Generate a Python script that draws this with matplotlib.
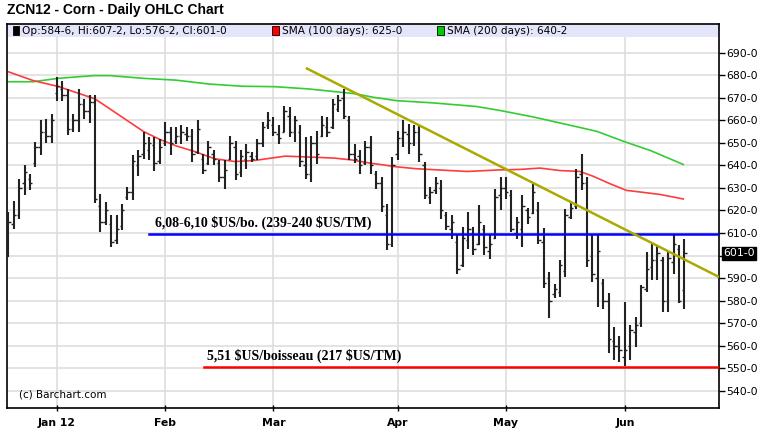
import matplotlib
matplotlib.use("Agg")
import matplotlib.pyplot as plt
from matplotlib.patches import Rectangle
import numpy as np

# ---------------- data ----------------
highs = [619.3, 624.0, 634.0, 640.0, 636.0, 650.5, 660.0, 660.6, 663.0, 679.3,
         677.6, 674.0, 663.0, 674.0, 669.5, 671.0, 671.0, 627.4, 623.7, 617.8,
         617.8, 623.0, 630.4, 644.4, 646.6, 655.0, 652.5, 652.5, 651.8, 659.4,
         657.0, 657.0, 657.7, 657.0, 656.0, 660.0, 645.0, 650.6, 646.6, 642.2,
         642.2, 653.0, 651.0, 646.6, 649.5, 646.0, 651.8, 659.4, 663.5, 661.3,
         657.7, 666.5, 665.8, 662.0, 657.7, 652.5, 653.2, 655.4, 662.0, 661.3,
         669.5, 671.0, 674.0, 662.0, 649.5, 646.6, 650.6, 653.0, 637.3, 634.8,
         623.0, 643.6, 655.4, 660.0, 658.4, 657.7, 657.7, 641.4, 630.4, 634.8,
         633.3, 619.3, 617.8, 609.0, 612.7, 619.3, 612.7, 622.3, 613.4, 609.0,
         629.6, 634.8, 634.8, 628.9, 617.1, 626.7, 621.2, 631.9, 623.7, 612.4,
         592.8, 587.6, 597.9, 620.8, 623.7, 638.5, 645.1, 634.8, 609.7, 609.0,
         589.4, 583.2, 568.4, 564.3, 579.5, 569.2, 572.9, 586.9, 601.6, 605.3,
         604.6, 599.4, 601.6, 609.0, 604.6, 607.25]
lows = [599.4, 611.6, 616.4, 627.0, 629.0, 639.5, 644.4, 650.0, 650.0, 668.7,
        668.4, 653.5, 654.7, 654.7, 660.6, 659.0, 623.4, 610.5, 613.7, 603.8,
        605.3, 611.2, 624.5, 624.5, 635.5, 643.0, 642.2, 637.3, 640.7, 648.8,
        644.7, 649.5, 649.5, 651.0, 641.4, 645.0, 636.3, 640.0, 640.0, 632.6,
        629.6, 642.2, 633.3, 634.8, 638.5, 641.4, 642.2, 648.0, 656.2, 653.2,
        649.5, 654.7, 652.5, 650.3, 639.2, 634.1, 632.6, 640.7, 652.5, 652.5,
        656.2, 663.5, 660.6, 642.2, 641.0, 636.3, 640.0, 636.3, 629.6, 619.3,
        602.3, 603.8, 642.2, 648.0, 645.0, 648.8, 641.4, 625.2, 623.0, 627.4,
        616.4, 611.2, 607.5, 592.0, 595.0, 603.1, 600.1, 604.6, 600.1, 598.6,
        607.5, 620.0, 625.2, 610.5, 607.5, 603.8, 614.1, 618.6, 605.3, 585.4,
        572.1, 581.0, 581.7, 590.5, 616.4, 620.8, 628.9, 595.0, 588.3, 577.3,
        576.5, 556.6, 553.7, 553.0, 551.0, 553.7, 559.6, 568.4, 583.9, 589.1,
        589.1, 575.1, 575.1, 591.7, 578.8, 576.25]
opens = [600, 614, 618, 632, 634, 641, 648, 655, 653, 672,
         674, 671, 656, 660, 667, 664, 668, 622, 615, 614,
         607, 613, 626, 628, 640, 645, 647, 649, 642, 650,
         655, 651, 653, 654, 653, 646, 643, 641, 645, 641,
         635, 643, 648, 637, 643, 644, 644, 650, 658, 658,
         654, 655, 662, 655, 655, 640, 636, 650, 653, 657,
         657, 665, 670, 660, 645, 644, 641, 648, 636, 632,
         618, 605, 645, 652, 654, 650, 655, 640, 626, 629,
         630, 618, 612, 606, 596, 607, 610, 605, 612, 602,
         608, 627, 630, 627, 610, 612, 620, 619, 620, 606,
         590, 583, 584, 593, 617, 622, 636, 632, 600, 590,
         588, 580, 562, 560, 555, 560, 566, 570, 585, 595,
         598, 598, 580, 597, 603, 584.75]
closes = [615, 618, 630, 637, 632, 648, 655, 653, 660, 675,
          671, 656, 660, 667, 664, 668, 625, 615, 620, 606,
          612, 620, 628, 642, 644, 650, 650, 641, 648, 655,
          650, 653, 655, 653, 645, 656, 638, 648, 643, 635,
          638, 650, 636, 644, 646, 643, 650, 657, 660, 655,
          652, 664, 655, 660, 642, 636, 650, 645, 658, 655,
          667, 669, 662, 645, 643, 640, 648, 640, 632, 622,
          605, 640, 652, 655, 650, 655, 645, 627, 628, 632,
          620, 613, 615, 594, 608, 612, 603, 615, 604, 605,
          626, 630, 628, 612, 615, 622, 617, 628, 607, 588,
          580, 585, 596, 618, 621, 635, 632, 598, 592, 602,
          580, 563, 560, 558, 558, 567, 569, 586, 594, 598,
          601, 580, 599, 605, 580, 601.0]

sma100_x = [0, 4.6, 9.2, 13.9, 16, 18.8, 21.9, 25, 28, 31.2, 34.5, 38.2, 41.9,
            45.6, 51.2, 56.7, 60.4, 63.5, 66.9, 69.4, 71.2, 75.5, 81.7, 84.8,
            90.9, 94.6, 98.3, 102, 105.7, 108.2, 111.3, 114.3, 116.8, 120.5, 124.8]
sma100_y = [681.5, 677.6, 675.0, 671.2, 669.5, 665.0, 660.0, 655.0, 651.5, 648.5,
            646.1, 642.9, 641.7, 642.2, 644.1, 643.6, 643.2, 642.4, 641.0, 640.2,
            639.5, 638.5, 637.7, 637.3, 638.0, 638.2, 638.8, 637.7, 637.3, 635.1,
            631.8, 628.9, 628.2, 627.1, 625.1]
sma200_x = [0, 4.6, 9.2, 15.7, 18.8, 25, 31, 37, 43.2, 49.3, 55.5, 61.6, 64,
            67.5, 71.8, 78.6, 86.6, 91, 97, 103.3, 108.8, 113.7, 118.7, 124.8]
sma200_y = [677.1, 677.1, 678.6, 679.8, 679.8, 678.6, 677.8, 676.1, 675.1, 674.9,
            673.9, 672.4, 671.8, 670.2, 668.7, 667.7, 666.1, 664.3, 661.5, 658.1,
            655.1, 650.7, 646.6, 640.4]

trend_x = [55.0, 131.4]
trend_y = [683.2, 590.5]
resist_level = 609.5
resist_start = 26.0
support_level = 550.5
support_start = 36.2

month_pos = [9, 29, 49, 72, 92, 114]
month_labels = ["Jan 12", "Feb", "Mar", "Apr", "May", "Jun"]
ytick_vals = list(range(540, 700, 10))
ytick_labels = ["" if v == 600 else f"{v}-0" for v in ytick_vals]

# ---------------- figure ----------------
fig = plt.figure(figsize=(7.63, 4.32), dpi=100)
ax = fig.add_axes([6.5 / 763, 1 - 408 / 432, (719 - 6.5) / 763, (408 - 24) / 432])
XMIN, XMAX = -0.35, 131.4
YMIN, YMAX = 532.4, 702.7
ax.set_xlim(XMIN, XMAX)
ax.set_ylim(YMIN, YMAX)

grid_c = "#dedede"
for v in ytick_vals + [700]:
    ax.axhline(v, color=grid_c, lw=1.2, zorder=0)
for m in month_pos:
    ax.axvline(m, color=grid_c, lw=1.2, zorder=0)

# legend band
ax.add_patch(Rectangle((0, 0.966), 1, 0.034, transform=ax.transAxes,
                       facecolor="#e4e4fa", edgecolor="none", zorder=1))

# SMA lines
ax.plot(sma200_x, sma200_y, color="#33cc33", lw=1.2, zorder=2)
ax.plot(sma100_x, sma100_y, color="#ff3b3b", lw=1.2, zorder=2)

# OHLC bars
x = np.arange(len(highs))
ax.vlines(x, lows, highs, color="#222222", lw=1.5, zorder=3)
ax.hlines(opens, x - 0.45, x, color="#222222", lw=1.0, zorder=3)
ax.hlines(closes, x, x + 0.45, color="#222222", lw=1.0, zorder=3)

# horizontal levels and trendline
ax.plot([resist_start, XMAX], [resist_level, resist_level], color="#0000ff", lw=1.8, zorder=4)
ax.plot([support_start, XMAX], [support_level, support_level], color="#ff0000", lw=1.8, zorder=4)
ax.plot(trend_x, trend_y, color="#aaaa00", lw=1.8, zorder=4, solid_capstyle="butt")

serif = ["Liberation Serif", "DejaVu Serif"]
ax.text(27.1, 611.3, "6,08-6,10 $US/bo. (239-240 $US/TM)", family=serif,
        fontweight="bold", fontsize=10, va="bottom", ha="left", zorder=5,
        parse_math=False)
ax.text(36.7, 552.2, "5,51 $US/boisseau (217 $US/TM)", family=serif,
        fontweight="bold", fontsize=10, va="bottom", ha="left", zorder=5,
        parse_math=False)

ax.text(0.018, 538.6, "(c) Barchart.com", transform=ax.get_yaxis_transform(),
        fontsize=7.5, va="center", ha="left", family="DejaVu Sans", zorder=5)

# legend texts
ly = 0.983
fs_leg = 7.6
ax.add_patch(Rectangle((0.0085, ly - 0.011), 0.0095, 0.022, transform=ax.transAxes,
                       facecolor="black", edgecolor="black", lw=0.6, zorder=6))
ax.text(0.022, ly, "Op:584-6, Hi:607-2, Lo:576-2, Cl:601-0", transform=ax.transAxes,
        fontsize=fs_leg, va="center", ha="left", zorder=6)
ax.add_patch(Rectangle((0.373, ly - 0.011), 0.0095, 0.022, transform=ax.transAxes,
                       facecolor="#ff0000", edgecolor="black", lw=0.6, zorder=6))
ax.text(0.387, ly, "SMA (100 days): 625-0", transform=ax.transAxes,
        fontsize=fs_leg, va="center", ha="left", zorder=6)
ax.add_patch(Rectangle((0.604, ly - 0.011), 0.0095, 0.022, transform=ax.transAxes,
                       facecolor="#00cc00", edgecolor="black", lw=0.6, zorder=6))
ax.text(0.618, ly, "SMA (200 days): 640-2", transform=ax.transAxes,
        fontsize=fs_leg, va="center", ha="left", zorder=6)

# axes styling
for s in ax.spines.values():
    s.set_color("black")
    s.set_linewidth(1.2)
ax.yaxis.tick_right()
ax.set_yticks(ytick_vals)
ax.set_yticklabels(ytick_labels, fontsize=7.8)
ax.tick_params(axis="y", direction="out", length=4, width=1, pad=1)
ax.set_xticks(month_pos)
ax.set_xticklabels(month_labels, fontsize=7.8, fontweight="bold")
ax.tick_params(axis="x", direction="inout", length=5, width=1, pad=5)

# last price box
ax.text(1.006, 601.0, "601-0", transform=ax.get_yaxis_transform(), fontsize=7.8,
        color="white", va="center", ha="left",
        bbox=dict(boxstyle="square,pad=0.12", facecolor="black", edgecolor="black"))

fig.text(7 / 763, 1 - 10 / 432, "ZCN12 - Corn - Daily OHLC Chart",
         family=["Liberation Sans", "DejaVu Sans"], fontweight="bold",
         fontsize=10, va="center", ha="left")

fig.savefig("out.png", dpi=100, facecolor="white")
